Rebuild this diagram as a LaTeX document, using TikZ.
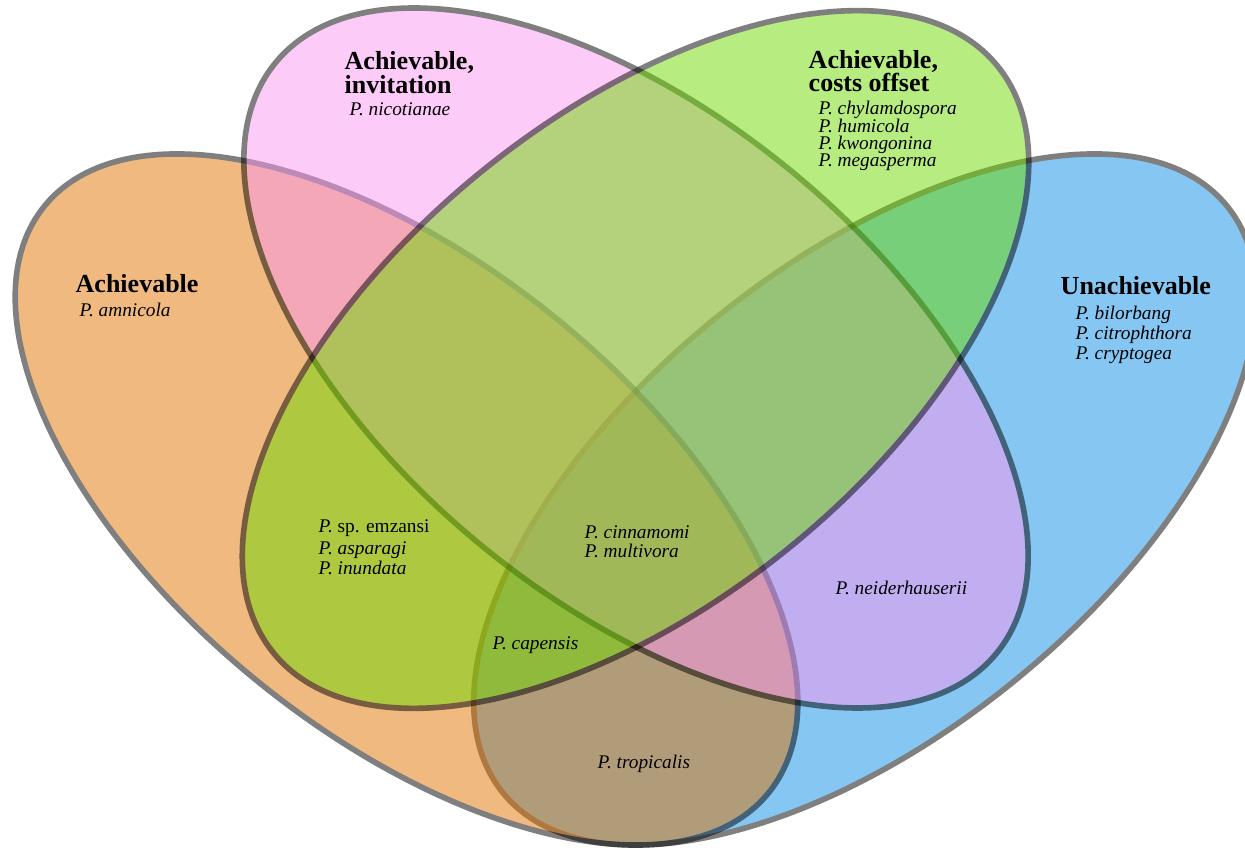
\documentclass[tikz,border=0pt]{standalone}
\usepackage{fontspec}
\setmainfont{Liberation Serif}
\usepackage{tikz}

\definecolor{orangeset}{RGB}{223,115,1}
\definecolor{blueset}{RGB}{11,141,231}
\definecolor{pinkset}{RGB}{251,151,239}
\definecolor{greenset}{RGB}{109,217,1}

\begin{document}
\begin{tikzpicture}[
    settitle/.style={font=\bfseries\fontsize{7.4pt}{7.4pt}\selectfont, inner sep=0pt, anchor=base west},
    species/.style={font=\itshape\fontsize{5.5pt}{5.5pt}\selectfont, inner sep=0pt, anchor=base west},
    setline/.style={line width=1.6pt, draw=black}
]
    \useasboundingbox (0,0) rectangle (12.45,8.49);
    \clip (0,0) rectangle (12.45,8.49);

    % the four sets: blue, orange, pink, green (in this order)
    \foreach \col/\cx/\cy/\ang/\rb in {blueset/8.65/3.495/39/2.35, orangeset/4.065/3.495/-39/2.35,
                                       pinkset/6.36/4.91/-39.3/2.43, greenset/6.355/4.895/39/2.43}
    {
        \begin{scope}[transparency group, opacity=0.5]
            \filldraw[setline, fill=\col, rotate around={\ang:(\cx,\cy)}] (\cx,\cy) ellipse [x radius=4.66, y radius=\rb];
        \end{scope}
    }

    % labels of the sets
    \node[settitle] (ach) at (0.75,5.56) {Achievable};
    \node[species] (amni) at (0.79,5.32) {P. amnicola};

    \node[settitle] (inv1) at (3.44,7.79) {Achievable,};
    \node[settitle] (inv2) at (3.44,7.557) {invitation};
    \node[species] (nico) at (3.49,7.33) {P. nicotianae};

    \node[settitle] (cost1) at (8.08,7.80) {Achievable,};
    \node[settitle] (cost2) at (8.08,7.573) {costs offset};
    \foreach \s [count=\i] in {chylamdospora,humicola,kwongonina,megasperma}
        \node[species] (cost\s) at (8.18,{7.34-0.173*(\i-1)}) {P. \s};

    \node[settitle] (unach) at (10.60,5.54) {Unachievable};
    \foreach \s [count=\i] in {bilorbang,citrophthora,cryptogea}
        \node[species] (unach\s) at (10.75,{5.29-0.197*(\i-1)}) {P. \s};

    % species in the overlaps
    \node[species] (emz) at (3.18,3.163) {P. \textup{sp. emzansi}};
    \node[species] (aspa) at (3.18,2.947) {P. asparagi};
    \node[species] (inun) at (3.18,2.74) {P. inundata};

    \node[species] (cinn) at (5.84,3.107) {P. cinnamomi};
    \node[species] (mult) at (5.84,2.913) {P. multivora};

    \node[species] (neid) at (8.35,2.54) {P. neiderhauserii};
    \node[species] (cape) at (4.92,1.99) {P. capensis};
    \node[species] (trop) at (5.97,0.807) {P. tropicalis};
\end{tikzpicture}
\end{document}
